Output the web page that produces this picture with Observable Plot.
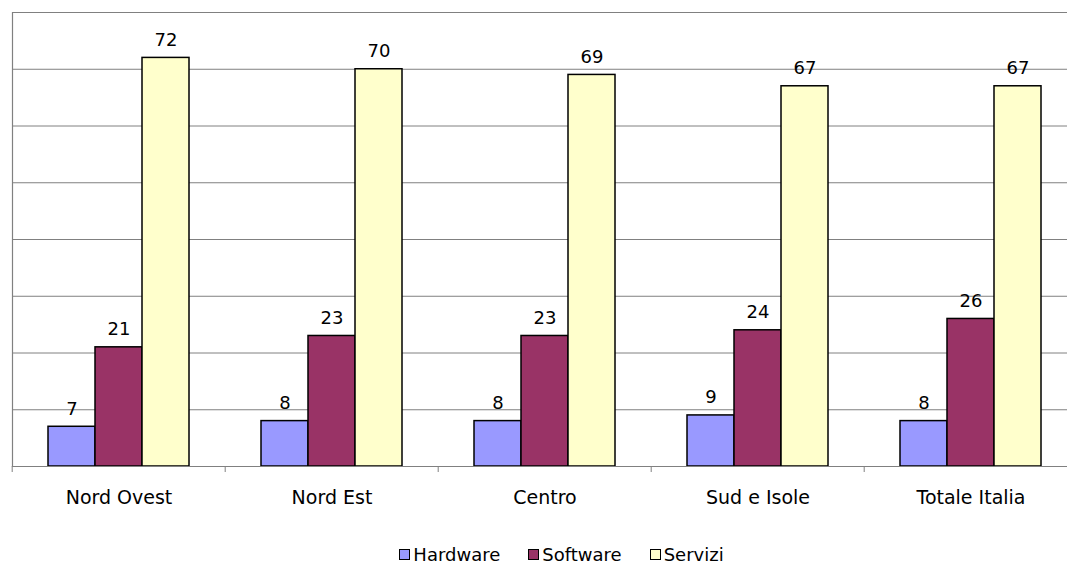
<!DOCTYPE html>
<html>
<head>
<meta charset="utf-8">
<script src="https://cdn.jsdelivr.net/npm/d3@7"></script>
<script src="https://cdn.jsdelivr.net/npm/@observablehq/plot@0.6"></script>
<style>
  html, body { margin: 0; padding: 0; background: #fff; overflow: hidden; }
  body { font-family: "DejaVu Sans", sans-serif; width: 1067px; height: 563px; position: relative; }
  #legend {
    position: absolute; left: 0; top: 544px; width: 1067px;
    display: flex; justify-content: center; gap: 28px;
    font-size: 18px; color: #000; padding-left: 56px; box-sizing: border-box;
  }
  #legend .item { display: flex; align-items: center; gap: 3px; }
  #legend .sw { width: 9px; height: 9px; border: 1.5px solid #000; display: inline-block; }
</style>
</head>
<body>
<div id="chart"></div>
<div id="legend"></div>
<script>
// Regional breakdown of ICT spending (values in %)
const regions = ["Nord Ovest", "Nord Est", "Centro", "Sud e Isole", "Totale Italia"];
const series = ["Hardware", "Software", "Servizi"];
const hardware = [7, 8, 8, 9, 8];
const software = [21, 23, 23, 24, 26];
const servizi = [72, 70, 69, 67, 67];
const colors = ["#9999ff", "#993366", "#ffffcc"];

const values = {Hardware: hardware, Software: software, Servizi: servizi};
const data = regions.flatMap((region, i) =>
  series.map((s) => ({region, series: s, value: values[s][i]}))
);

const width = 1067;
const height = 535;
const marginLeft = 10;
const marginRight = -11;
const step = (width - marginLeft - marginRight) / regions.length;

const chart = Plot.plot({
  width,
  height,
  marginTop: 12,
  marginBottom: 69,
  marginLeft,
  marginRight,
  style: {fontFamily: "DejaVu Sans, sans-serif", fontSize: "18px", color: "#000", background: "#fff"},
  fx: {domain: regions, padding: 0, axis: null, label: null},
  x: {domain: series, paddingInner: 0, paddingOuter: 0.74, axis: null},
  y: {domain: [0, 80], axis: null},
  color: {domain: series, range: colors},
  marks: [
    Plot.gridY(d3.range(10, 81, 10), {stroke: "#808080", strokeOpacity: 1, strokeWidth: 1}),
    Plot.frame({anchor: "left", stroke: "#808080", strokeWidth: 1.2, facetAnchor: "left"}),
    Plot.barY(data, {fx: "region", x: "series", y: "value", fill: "series", stroke: "#000", strokeWidth: 1.5}),
    Plot.ruleY([0], {stroke: "#808080", strokeWidth: 1.2}),
    Plot.text(data, {
      fx: "region", x: "series", y: "value", text: (d) => String(d.value),
      lineAnchor: "bottom", dy: -12, fill: "#000", fontSize: 18
    }),
    // category labels under each group
    Plot.axisFx({anchor: "bottom", tickSize: 0, tickPadding: 24, label: null, fontSize: 19}),
    // small separator ticks between the groups
    Plot.axisFx({anchor: "bottom", tickSize: 6, text: null, label: null, dx: -step / 2, stroke: "#808080"})
  ]
});
document.getElementById("chart").append(chart);

const legend = d3.select("#legend");
series.forEach((s, i) => {
  const item = legend.append("div").attr("class", "item");
  item.append("span").attr("class", "sw").style("background", colors[i]);
  item.append("span").text(s);
});
</script>
</body>
</html>
